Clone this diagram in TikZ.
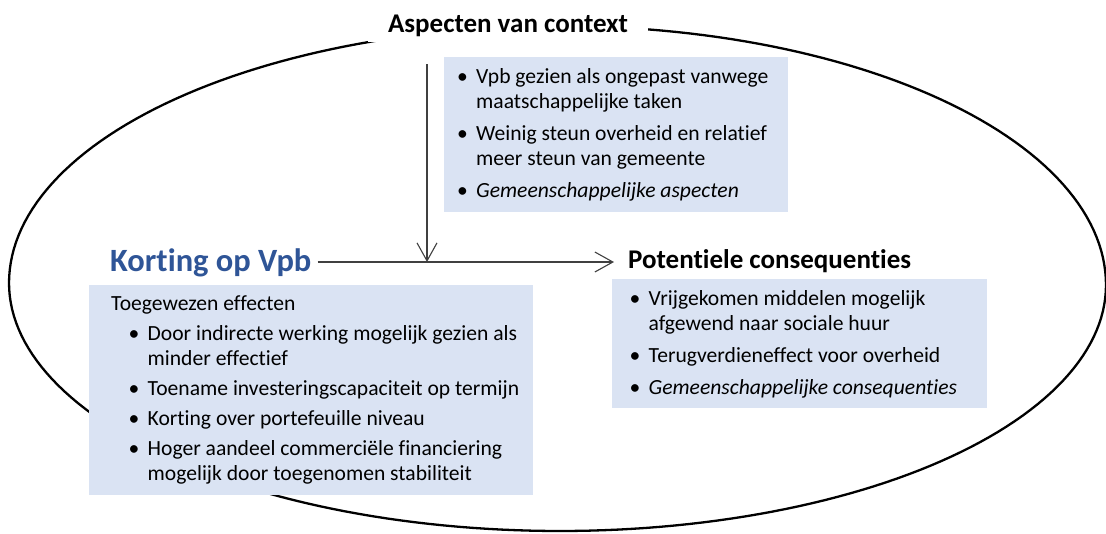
\documentclass[tikz,border=0pt]{standalone}
\usepackage{fontspec}
\setmainfont{Carlito}[Ligatures={NoCommon}]
\usetikzlibrary{arrows.meta,calc}
\definecolor{boxfill}{HTML}{DAE3F3}
\definecolor{headblue}{HTML}{2F5597}
\definecolor{arrowgray}{HTML}{404040}
\newcommand\bodyfont{\fontsize{21.6}{25}\selectfont}
\newcommand\itm[1]{\makebox[19pt][l]{\textbullet}#1}
\newcommand\cnt[1]{\hspace{19pt}#1}
\begin{document}
\begin{tikzpicture}[x=1pt,y=-1pt,
  infobox/.style={fill=boxfill, draw=none, anchor=north west, inner sep=0pt},
  listtext/.style={anchor=base west, inner sep=0pt, font=\bodyfont},
  heading/.style={font=\fontsize{27}{32}\selectfont\bfseries, inner sep=0pt},
  link/.style={draw=arrowgray, line width=1.1pt,
    -{Straight Barb[length=18pt,width=20pt,line width=1.1pt]}},
  frame/.style={line width=2.3pt, line join=round}]

\useasboundingbox (0,0) rectangle (1106,533);

% outer oval, built from four quarter ellipses
\draw[frame]
  plot[domain=180:90, samples=60] ({560+551*cos(\x)}, {283-257*sin(\x)})
  -- plot[domain=90:0, samples=60] ({560+546*cos(\x)}, {285-259*sin(\x)})
  -- plot[domain=360:270, samples=60] ({560+546*cos(\x)}, {285-246*sin(\x)})
  -- plot[domain=270:180, samples=60] ({560+551*cos(\x)}, {283-248*sin(\x)})
  -- cycle;

% shaded boxes
\node[infobox, minimum width=344pt, minimum height=155pt] (ctxbox) at (444,57) {};
\node[infobox, minimum width=375pt, minimum height=129pt] (conbox) at (612,279) {};
\node[infobox, minimum width=444pt, minimum height=210pt] (effbox) at (89,285) {};

% box contents
\node[listtext] (ctxtext) at (457,83) {\begin{tabular}[t]{@{}l@{}}
  \itm{Vpb gezien als ongepast vanwege}\\
  \cnt{maatschappelijke taken}\\[7pt]
  \itm{Weinig steun overheid en relatief}\\
  \cnt{meer steun van gemeente}\\[7pt]
  \itm{\itshape Gemeenschappelijke aspecten}
\end{tabular}};

\node[listtext] (context) at (629.5,305) {\begin{tabular}[t]{@{}l@{}}
  \itm{Vrijgekomen middelen mogelijk}\\
  \cnt{afgewend naar sociale huur}\\[7pt]
  \itm{Terugverdieneffect voor overheid}\\[7pt]
  \itm{\itshape Gemeenschappelijke consequenties}
\end{tabular}};

\node[listtext] (efftext) at (111,310) {\begin{tabular}[t]{@{}l@{}}
  Toegewezen effecten\\[5pt]
  \hspace{17.5pt}\itm{Door indirecte werking mogelijk gezien als}\\
  \hspace{17.5pt}\cnt{minder effectief}\\[5pt]
  \hspace{17.5pt}\itm{Toename investeringscapaciteit op termijn}\\[5pt]
  \hspace{17.5pt}\itm{Korting over portefeuille niveau}\\[5pt]
  \hspace{17.5pt}\itm{Hoger aandeel commerciële financiering}\\
  \hspace{17.5pt}\cnt{mogelijk door toegenomen stabiliteit}
\end{tabular}};

% headings
\node[heading, fill=white, inner xsep=20pt, inner ysep=6pt, anchor=base] (aspects) at (508,32) {Aspecten van context};
\node[heading, font=\fontsize{32.5}{38}\selectfont\bfseries, text=headblue,
  inner xsep=6pt, anchor=base west] (cut) at (104,271) {Korting op Vpb};
\node[heading, inner xsep=14pt, anchor=base west] (conseq) at (614,268) {Potentiele consequenties};

% connectors
\coordinate (junction) at (427,262);
\coordinate (drop) at (427,64);
\draw[link] (cut.east |- junction) -- (conseq.west |- junction);
\draw[link] (drop) -- (junction);
\end{tikzpicture}
\end{document}
